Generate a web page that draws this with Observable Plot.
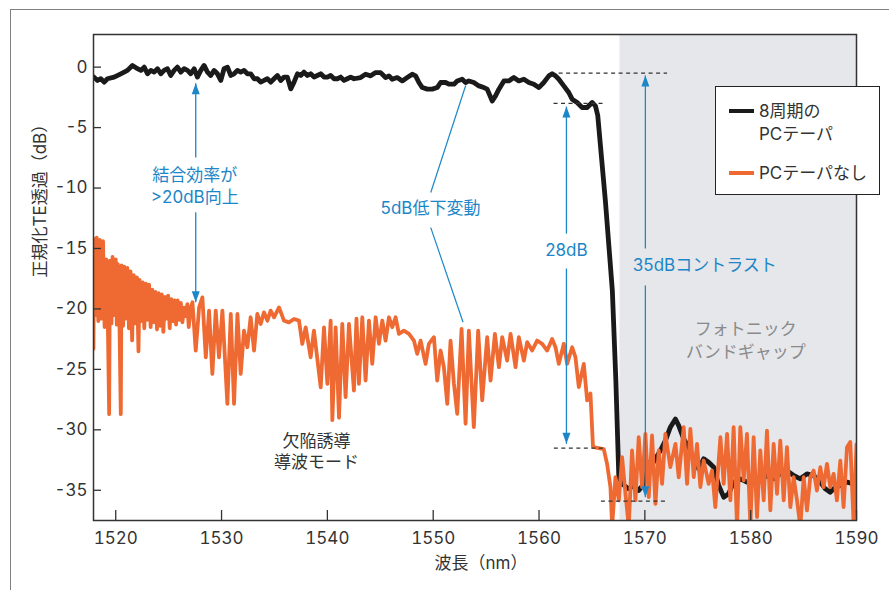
<!DOCTYPE html>
<html><head><meta charset="utf-8">
<script src="https://cdn.jsdelivr.net/npm/d3@7"></script>
<script src="https://cdn.jsdelivr.net/npm/@observablehq/plot@0.6"></script>
<style>
html,body{margin:0;padding:0;background:#fff;overflow:hidden;}
#wrap{position:relative;width:889px;height:590px;overflow:hidden;font-family:Inter,"Noto Sans CJK JP",sans-serif;}
#outer{position:absolute;left:10px;top:9px;width:1000px;height:1000px;border:1.5px solid #808080;}
#chart{position:absolute;left:0;top:0;}
#legend{position:absolute;left:715px;top:86px;width:163px;height:107px;border:1.5px solid #222;background:#fff;color:#333;font-size:17px;}
#legend .sw{position:absolute;left:13px;width:25px;height:4px;}
#legend .tx{position:absolute;left:43px;height:20px;line-height:20px;white-space:nowrap;}
</style></head>
<body>
<div id="wrap">
  <div id="outer"></div>
  <div id="chart"></div>
  <div id="legend">
    <div class="sw" style="top:22px;background:#1a1a1a"></div>
    <div class="tx" style="top:14px">8周期の</div>
    <div class="tx" style="top:37px">PCテーパ</div>
    <div class="sw" style="top:84px;background:#ef6a32"></div>
    <div class="tx" style="top:76px">PCテーパなし</div>
  </div>
</div>
<script>
// ---- data (wavelength nm, normalized TE transmission dB) ----
const xTicks = [1520, 1530, 1540, 1550, 1560, 1570, 1580, 1590];
const yTicks = [0, -5, -10, -15, -20, -25, -30, -35];

const taper8 = [
[1517.9,-0.8],[1518.28,-1.10],[1518.59,-0.96],[1518.91,-1.24],[1519.22,-0.96],[1519.85,-0.82],[1520.48,-0.55],[1521.11,-0.27],[1521.58,0.14],[1522.06,-0.13],[1522.37,-0.27],[1522.69,0.00],[1523.00,-0.55],[1523.32,-0.27],[1523.63,-0.41],[1523.95,-0.13],[1524.26,-0.55],[1524.57,-0.27],[1524.89,-0.13],[1525.20,-0.69],[1525.52,-0.27],[1525.83,0.00],[1526.15,-0.41],[1526.46,-0.13],[1526.78,-0.27],[1527.09,-0.55],[1527.41,-0.13],[1527.72,-0.82],[1528.04,-0.27],[1528.35,0.14],[1528.67,-0.41],[1528.98,-0.69],[1529.30,-0.27],[1529.61,-0.55],[1529.93,-1.10],[1530.24,-0.13],[1530.56,0.00],[1530.87,-0.69],[1531.18,-0.55],[1531.50,-0.27],[1531.81,-0.41],[1532.13,-0.27],[1532.44,-0.55],[1532.76,-0.55],[1533.07,-0.96],[1533.39,-0.96],[1533.70,-1.24],[1534.02,-1.10],[1534.33,-0.96],[1534.65,-1.24],[1534.96,-0.96],[1535.28,-0.69],[1535.59,-1.10],[1535.91,-0.82],[1536.22,-0.82],[1536.54,-1.8],[1536.85,-1.24],[1537.17,-0.55],[1537.48,-0.69],[1537.79,-0.41],[1538.11,-0.69],[1538.42,-0.55],[1538.74,-0.82],[1539.05,-0.69],[1539.37,-0.55],[1539.68,-0.82],[1540.00,-0.82],[1540.31,-0.69],[1540.63,-0.96],[1540.94,-0.96],[1541.26,-0.82],[1541.57,-1.10],[1541.89,-0.96],[1542.20,-0.82],[1542.52,-0.96],
[1543.14,-0.86],[1543.61,-0.59],[1544.09,-0.72],[1544.56,-0.45],[1545.03,-0.45],[1545.50,-0.86],[1545.82,-0.72],[1546.13,-1.00],[1546.60,-0.86],[1547.08,-1.14],[1547.55,-0.86],[1548.02,-0.59],[1548.34,-0.72],[1548.65,-1.27],[1548.97,-1.69],[1549.44,-1.82],[1549.91,-1.82],[1550.38,-1.69],[1550.70,-1.27],[1551.17,-1.27],[1551.48,-1.41],[1551.96,-1.41],[1552.27,-1.14],[1552.74,-1.00],[1553.06,-1.27],[1553.37,-1.14],[1553.84,-1.27],[1554.32,-1.55],[1554.79,-1.69],[1555.10,-1.82],[1555.58,-2.8],[1555.89,-2.38],[1556.21,-1.82],[1556.68,-1.14],[1557.15,-1.14],[1557.62,-0.86],[1558.09,-1.14],[1558.57,-1.00],[1559.04,-1.27],[1559.51,-1.41],[1559.98,-1.69],[1560.45,-1.27],[1560.93,-0.72],[1561.24,-0.55],[1561.56,-0.72],[1561.87,-1.00],[1562.34,-1.55],[1562.81,-2.10],[1563.13,-2.65],[1563.60,-2.93],[1564.07,-3.34],[1564.55,-3.34],[1565.02,-2.93],[1565.33,-3.20],[1565.55,-4.0],
[1566.27,-11.05],[1566.93,-18.5],[1567.26,-25.9],[1567.54,-33.9],
[1567.85,-34.47],[1568.48,-34.88],[1568.95,-34.60],[1569.42,-35.02],[1569.90,-34.47],[1570.21,-32.68],[1570.53,-33.09],[1571.00,-32.40],[1571.47,-31.71],[1571.94,-30.89],[1572.41,-29.78],[1572.89,-29.10],[1573.20,-29.65],[1573.67,-30.75],[1574.15,-31.44],[1574.62,-32.40],[1575.09,-33.23],[1575.56,-32.40],[1576.03,-32.68],[1576.51,-33.09],[1576.98,-34.60],[1577.45,-35.57],[1577.92,-35.29],[1578.39,-34.33],[1579.02,-34.05],[1579.65,-34.33],[1580.28,-33.92],[1580.91,-34.19],[1581.54,-33.78],[1582.17,-34.05],[1582.80,-33.64],[1583.43,-33.37],[1584.06,-33.78],[1584.69,-34.05],[1585.32,-33.64],[1585.95,-33.78],[1586.58,-34.33],[1587.05,-34.88],[1587.52,-35.16],[1587.99,-34.74],[1588.47,-34.60],[1589.10,-34.33],[1589.73,-34.47],[1590.0,-34.19]
];

const noTaper = [
[1517.9,-23.3],[1517.95,-14.2],[1518.1,-20.5],[1518.2,-14.1],[1518.35,-21.0],[1518.5,-14.3],[1518.65,-20.8],[1518.8,-14.4],[1518.95,-21.5],[1519.1,-15.9],[1519.25,-20.9],[1519.38,-28.7],[1519.45,-16.0],[1519.6,-21.2],[1519.7,-15.7],[1519.85,-20.5],[1520.0,-15.9],[1520.1,-21.3],[1520.2,-16.3],[1520.35,-21.0],[1520.48,-28.7],[1520.55,-16.4],[1520.7,-21.4],[1520.8,-16.5],[1520.95,-20.8],[1521.1,-16.6],[1521.25,-21.6],[1521.4,-16.9],[1521.55,-22.6],[1521.7,-17.2],[1521.85,-21.2],[1522.0,-17.4],[1522.15,-23.5],[1522.25,-17.6],[1522.4,-21.0],[1522.55,-17.8],[1522.7,-21.6],[1522.85,-17.9],[1523.0,-20.9],[1523.15,-18.0],[1523.3,-21.5],[1523.45,-18.4],[1523.6,-21.1],[1523.75,-18.6],[1523.9,-21.7],[1524.05,-18.7],[1524.2,-21.4],[1524.35,-18.8],[1524.5,-21.9],[1524.65,-19.0],[1524.8,-20.8],[1524.95,-18.9],[1525.1,-21.6],[1525.25,-19.2],[1525.4,-21.0],[1525.55,-19.3],[1525.7,-21.3],[1525.85,-19.3],[1526.0,-20.9],[1526.15,-19.5],[1526.3,-21.1],[1526.46,-19.9],[1526.6,-20.6],[1526.77,-19.6],[1526.9,-21.5],[1527.09,-19.9],
[1527.25,-19.45],[1527.56,-23.45],[1527.88,-19.87],[1528.19,-19.04],[1528.51,-24.0],[1528.82,-20.14],[1529.13,-25.38],[1529.45,-20.14],[1529.76,-24.0],[1530.08,-20.14],[1530.55,-27.86],[1530.87,-20.42],[1531.18,-27.86],[1531.50,-20.42],[1531.81,-25.38],[1532.12,-21.79],[1532.44,-23.17],[1532.75,-20.69],[1533.07,-23.45],[1533.38,-20.42],[1533.70,-21.24],[1534.01,-20.28],[1534.33,-20.97],[1534.64,-20.14],[1534.96,-20.69],[1535.43,-19.87],[1535.90,-20.97],[1536.37,-21.11],[1536.85,-20.83],[1537.32,-20.97],[1537.63,-22.9],[1537.95,-21.52],[1538.42,-24.0],[1538.73,-21.79],[1539.37,-26.48],[1539.68,-21.52],[1540.00,-26.20],[1540.31,-20.97],[1540.47,-29.2],[1540.78,-21.52],[1541.10,-29.0],[1541.41,-21.24],[1541.72,-27.3],[1542.04,-21.24],[1542.51,-26.75],[1542.75,-20.8],[1542.98,-26.2],
[1543.30,-20.69],[1543.61,-25.92],[1543.93,-20.96],[1544.24,-24.54],[1544.56,-20.69],[1544.87,-22.89],[1545.19,-20.96],[1545.50,-22.62],[1545.82,-20.69],[1546.13,-21.51],[1546.45,-20.69],[1546.76,-22.06],[1547.23,-21.79],[1547.71,-22.06],[1548.18,-22.62],[1548.49,-23.72],[1548.81,-22.62],[1549.28,-24.54],[1549.59,-22.89],[1550.07,-22.34],[1550.38,-25.92],[1550.70,-23.44],[1551.01,-24.82],[1551.33,-27.85],[1551.64,-22.62],[1551.96,-26.20],[1552.27,-28.68],[1552.68,-21.65],[1553.06,-29.50],[1553.37,-21.79],[1553.84,-29.78],[1554.25,-21.79],[1554.63,-27.57],[1555.10,-22.34],[1555.42,-25.92],[1555.83,-22.06],[1556.21,-24.82],[1556.52,-22.34],[1556.99,-24.27],[1557.31,-22.06],[1557.78,-24.82],[1558.09,-22.34],[1558.57,-24.27],[1558.88,-22.75],[1559.35,-23.44],[1559.82,-22.62],[1560.30,-22.89],[1560.77,-23.44],[1561.24,-22.48],[1561.56,-23.17],[1561.87,-24.54],[1562.34,-22.89],[1562.66,-24.54],[1563.13,-23.17],[1563.44,-23.99],[1563.76,-26.47],[1564.23,-24.54],[1564.55,-27.57],[1564.86,-27.0],[1565.1,-31.4],[1565.5,-31.5],[1566.12,-31.6],
[1566.43,-32.81],[1566.75,-34.74],[1566.91,-38],[1567.22,-33.92],[1567.54,-35.84],[1567.85,-32.26],[1568.17,-35.29],[1568.48,-38],[1568.79,-31.71],[1569.11,-35.84],[1569.42,-30.61],[1569.74,-34.74],[1570.05,-30.33],[1570.37,-35.57],[1570.68,-30.47],[1571.00,-36.12],[1571.31,-31.71],[1571.63,-34.47],[1571.94,-30.33],[1572.41,-33.09],[1572.89,-31.16],[1573.20,-33.92],[1573.67,-29.78],[1573.99,-34.47],[1574.30,-29.92],[1574.62,-33.92],[1574.93,-31.16],[1575.25,-34.74],[1575.56,-32.54],[1576.03,-34.47],[1576.35,-33.37],[1576.66,-36.40],[1577.14,-30.61],[1577.45,-34.47],[1577.77,-30.33],[1578.08,-35.84],[1578.39,-29.78],[1578.71,-38],[1579.02,-29.78],[1579.34,-34.19],[1579.65,-30.33],[1579.97,-38],[1580.28,-30.61],[1580.60,-37.22],[1580.91,-31.71],[1581.23,-35.84],[1581.54,-30.06],[1581.86,-36.67],[1582.17,-31.16],[1582.49,-35.29],[1582.80,-30.89],[1583.12,-35.84],[1583.43,-31.44],[1583.75,-36.40],[1584.06,-33.92],[1584.38,-35.84],[1584.69,-38],[1585.01,-33.92],[1585.32,-36.67],[1585.63,-33.92],[1585.95,-33.37],[1586.26,-35.02],[1586.58,-33.09],[1586.89,-34.74],[1587.21,-32.81],[1587.52,-34.74],[1587.84,-33.64],[1588.15,-35.84],[1588.47,-32.54],[1588.78,-36.40],[1589.10,-31.44],[1589.41,-31.0],[1589.73,-37.8],[1590.0,-31.2]
];

// photonic band gap span (nm)
const bandGap = [[1567.65, 1590]];

// annotation geometry in data units
const arrows = [
  {x: 1527.56, from: -7.48, to: -1.33},
  {x: 1527.56, from: -12.0, to: -19.45},
  {x: 1562.59, from: -13.77, to: -3.26},
  {x: 1562.59, from: -16.66, to: -31.16},
  {x: 1570.05, from: -15.0, to: -0.69},
  {x: 1570.05, from: -18.06, to: -35.57}
];
const dashes = [
  {x1: 1561.85, x2: 1572.1, y: -0.50},
  {x1: 1561.37, x2: 1566.28, y: -2.99},
  {x1: 1561.4, x2: 1566.3, y: -31.52},
  {x1: 1565.85, x2: 1572.1, y: -35.9}
];
const pointers = [
  {x1: 1549.77, y1: -10.37, x2: 1553.07, y2: -1.52},
  {x1: 1549.77, y1: -13.27, x2: 1552.82, y2: -21.1}
];
const blueNotes = [
  {x: 1527.47, y: -8.97, text: "結合効率が"},
  {x: 1527.47, y: -10.79, text: ">20dB向上"},
  {x: 1549.75, y: -11.7, text: "5dB低下変動"},
  {x: 1562.59, y: -15.17, text: "28dB"},
  {x: 1575.67, y: -16.41, text: "35dBコントラスト"}
];
const grayNotes = [
  {x: 1579.54, y: -21.72, text: "フォトニック"},
  {x: 1579.54, y: -23.6, text: "バンドギャップ"}
];
const darkNotes = [
  {x: 1538.97, y: -30.94, text: "欠陥誘導"},
  {x: 1538.97, y: -32.7, text: "導波モード"}
];

// ---- drawing ----
const blue = "#1c86c8";
const headUp = {draw(ctx) { ctx.moveTo(0, 0); ctx.lineTo(4, 11); ctx.lineTo(-4, 11); ctx.closePath(); }};
const headDown = {draw(ctx) { ctx.moveTo(0, 0); ctx.lineTo(4, -11); ctx.lineTo(-4, -11); ctx.closePath(); }};

const chart = Plot.plot({
  width: 889, height: 590,
  marginLeft: 93, marginRight: 33, marginTop: 34, marginBottom: 70,
  x: {domain: [1517.9, 1590]},
  y: {domain: [-37.5, 2.7]},
  style: {fontFamily: "Inter, 'Noto Sans CJK JP', sans-serif", fontSize: "17px", color: "#333", background: "transparent"},
  marks: [
    Plot.rect(bandGap, {x1: d => d[0], x2: d => d[1], fill: "#e6e7eb"}),
    Plot.line(taper8, {x: d => d[0], y: d => d[1], stroke: "#1a1a1a", strokeWidth: 4.8, strokeLinejoin: "round", clip: true}),
    Plot.line(noTaper, {x: d => d[0], y: d => d[1], stroke: "#ef6a32", strokeWidth: 3.8, strokeLinejoin: "round", clip: true}),
    Plot.link(dashes, {x1: "x1", x2: "x2", y1: "y", y2: "y", stroke: "#333", strokeWidth: 1.3, strokeDasharray: "4,3.5"}),
    Plot.link(arrows, {x1: "x", x2: "x", y1: "from", y2: "to", stroke: blue, strokeWidth: 1.3}),
    Plot.dot(arrows.filter(d => d.to > d.from), {x: "x", y: "to", symbol: headUp, fill: blue, stroke: "none"}),
    Plot.dot(arrows.filter(d => d.to < d.from), {x: "x", y: "to", symbol: headDown, fill: blue, stroke: "none"}),
    Plot.link(pointers, {x1: "x1", y1: "y1", x2: "x2", y2: "y2", stroke: blue, strokeWidth: 1.2}),
    Plot.text(blueNotes, {x: "x", y: "y", text: "text", fill: blue, fontSize: 17}),
    Plot.text(grayNotes, {x: "x", y: "y", text: "text", fill: "#8a8a8a", fontSize: 17}),
    Plot.text(darkNotes, {x: "x", y: "y", text: "text", fill: "#333", fontSize: 17}),
    Plot.frame({stroke: "#333", strokeWidth: 1.5}),
    Plot.axisX({ticks: xTicks, tickSize: -10, tickPadding: 21, tickFormat: d => String(d), label: null, fill: "#333", stroke: "#333", strokeWidth: 1.3}),
    Plot.axisY({ticks: yTicks, tickSize: -8, tickPadding: 14, tickFormat: d => String(d), label: null, fill: "#333", stroke: "#333", strokeWidth: 1.3}),
    Plot.text(["波長（nm）"], {frameAnchor: "bottom", dy: 48, dx: 6, fill: "#333", fontSize: 17}),
    Plot.text(["正規化TE透過（dB）"], {frameAnchor: "left", dx: -53, rotate: -90, fill: "#333", fontSize: 17})
  ]
});
document.getElementById("chart").appendChild(chart);
</script>
</body></html>
